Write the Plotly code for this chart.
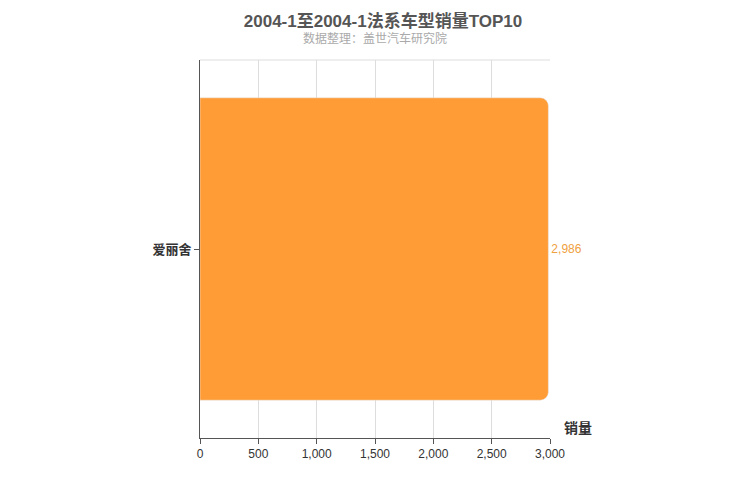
import plotly.graph_objects as go

models = ["爱丽舍"]
sales = [2986]
x_ticks = [0, 500, 1000, 1500, 2000, 2500, 3000]

fig = go.Figure(go.Bar(
    x=sales, y=models, orientation="h",
    marker=dict(color="#ff9c36", cornerradius=8),
    text=[f"{v:,}" for v in sales], textposition="outside",
    textfont=dict(color="#f0a040", size=12), cliponaxis=False,
))

fig.update_layout(
    width=750, height=500,
    margin=dict(l=192, r=208, t=52, b=70),
    paper_bgcolor="white", plot_bgcolor="white",
    font=dict(family="Liberation Sans, Noto Sans CJK SC, sans-serif", size=12, color="#333"),
    bargap=0.2,
    showlegend=False,
    title=dict(text="<b>2004-1至2004-1法系车型销量TOP10</b>", x=0.5, xanchor="center",
               y=0.985, yanchor="top", font=dict(size=17, color="#555")),
    annotations=[
        dict(text="数据整理：盖世汽车研究院", x=0.5, y=1.0, xref="paper", yref="paper",
             yanchor="bottom", yshift=12, showarrow=False, font=dict(size=12, color="#aaa")),
        dict(text="<b>销量</b>", x=1.0, y=0, xref="paper", yref="paper",
             xanchor="left", xshift=12, showarrow=False,
             font=dict(size=14, color="#333")),
    ],
    shapes=[dict(type="line", xref="paper", yref="paper", x0=0, x1=1, y0=1, y1=1,
                 line=dict(color="#ddd", width=1))],
)
fig.update_xaxes(range=[0, 3000], tickvals=x_ticks, tickformat=",", showgrid=True,
                 gridcolor="#ddd", showline=True, linecolor="#555", ticks="outside",
                 tickcolor="#555", ticklen=5, zeroline=False)
fig.update_yaxes(showline=True, linecolor="#555", ticks="outside", tickcolor="#555",
                 ticklen=5, tickprefix="<b>", ticksuffix="</b>",
                 tickfont=dict(size=13, color="#333"))

fig.write_html("out.html")
